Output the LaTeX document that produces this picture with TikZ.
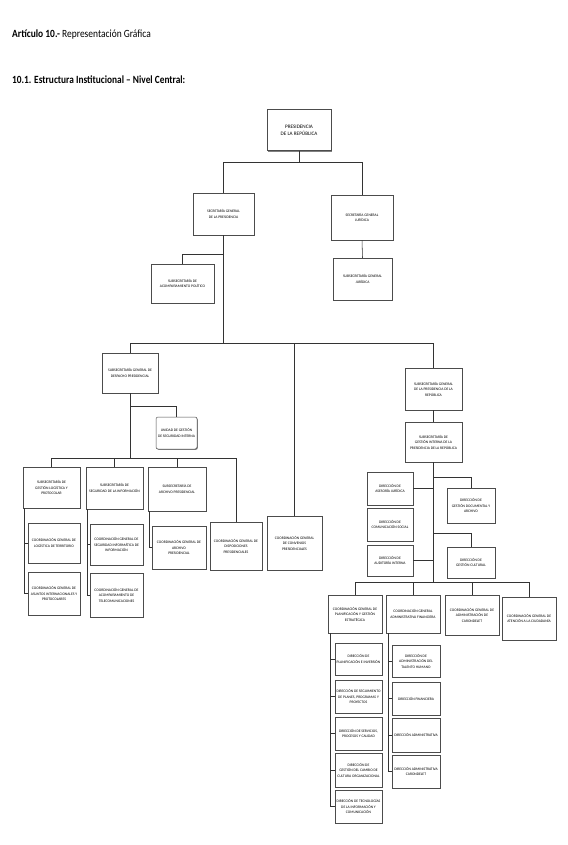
\documentclass[tikz,border=0pt]{standalone}
\usepackage{fontspec}
\setmainfont{Carlito}
\usetikzlibrary{shadows}
\tikzset{
  box/.style={draw=black!70, line width=0.5pt, fill=white, align=center, inner sep=0.6pt,
    font=\fontsize{3.7}{5.5}\selectfont,
    drop shadow={shadow xshift=0.8pt, shadow yshift=-0.8pt, fill=black!50, opacity=1}},
  topbox/.style={box, line width=1pt, font=\fontsize{5.2}{7.5}\selectfont},
  conn/.style={draw=black!80, line width=0.55pt},
  ttl/.style={anchor=base west, inner sep=0pt}
}
\newcommand\bx[7][]{\node[box,#1,minimum width={(#5)-(#3)},minimum height={(#6)-(#4)}] (#2) at ({((#3)+(#5))/2},{((#4)+(#6))/2}) {#7};}
\begin{document}
\begin{tikzpicture}[x=1pt,y=-1pt]
\useasboundingbox[fill=white] (0,0) rectangle (567,845);
% titles
\node[ttl] (t1) at (12,38) {\scalebox{0.86}[1]{\fontsize{11}{13}\selectfont\textbf{Artículo 10.-} Representación Gráfica}};
\node[ttl] (t2) at (12,84) {\scalebox{0.85}[1]{\fontsize{11}{13}\selectfont\textbf{10.1. Estructura Institucional – Nivel Central:}}};
% bus coordinates
\coordinate (b1) at (0,162);
\coordinate (b2) at (0,343);
\coordinate (b3) at (0,458);
\coordinate (b4) at (0,582);
% top level
\bx[topbox]{pres}{267}{110}{331}{151}{PRESIDENCIA\\DE LA REPÚBLICA}
\bx{sgp}{193}{193}{254}{235}{SECRETARÍA GENERAL\\DE LA PRESIDENCIA}
\bx{sgj}{331}{195}{393}{240}{SECRETARÍA GENERAL\\JURÍDICA}
\bx{sap}{151}{264}{214}{303}{SUBSECRETARÍA DE\\ACOMPAÑAMIENTO POLÍTICO}
\bx{sjur}{333}{258}{392}{300}{SUBSECRETARÍA GENERAL\\JURÍDICA}
% left branch
\bx{sdp}{102}{353}{158}{393}{SUBSECRETARÍA GENERAL DE\\DESPACHO PRESIDENCIAL}
\bx[rounded corners=2pt]{uni}{156}{417}{197}{449}{UNIDAD DE GESTIÓN\\DE SEGURIDAD INTERNA}
\bx{log}{23}{467}{80}{508}{SUBSECRETARÍA DE\\GESTIÓN LOGÍSTICA Y\\PROTOCOLAR}
\bx{seg}{86}{467}{143}{509}{SUBSECRETARÍA DE\\SEGURIDAD DE LA INFORMACIÓN}
\bx{arch}{148}{467}{206}{511}{SUBSECRETARÍA DE\\ARCHIVO PRESIDENCIAL}
\bx{c1}{28}{523}{80}{563}{COORDINACIÓN GENERAL DE\\LOGÍSTICA DE TERRITORIO}
\bx{c2}{28}{572}{80}{615}{COORDINACIÓN GENERAL DE\\ASUNTOS INTERNACIONALES Y\\PROTOCOLARES}
\bx{c3}{90}{524}{143}{565}{COORDINACIÓN GENERAL DE\\SEGURIDAD INFORMÁTICA DE\\INFORMACIÓN}
\bx{c4}{90}{573}{143}{617}{COORDINACIÓN GENERAL DE\\ACOMPAÑAMIENTO DE\\TELECOMUNICACIONES}
\bx{c5}{152}{526}{206}{569}{COORDINACIÓN GENERAL DE\\ARCHIVO\\PRESIDENCIAL}
\bx{disp}{210}{522}{262}{570}{COORDINACIÓN GENERAL DE\\DISPOSICIONES\\PRESIDENCIALES}
\bx{conv}{267}{516}{322}{570}{COORDINACIÓN GENERAL\\DE CONVENIOS\\PRESIDENCIALES}
% right branch
\bx{sgpr}{405}{368}{462}{410}{SUBSECRETARÍA GENERAL\\DE LA PRESIDENCIA DE LA\\REPÚBLICA}
\bx{sgi}{405}{422}{462}{462}{SUBSECRETARÍA DE\\GESTIÓN INTERNA DE LA\\PRESIDENCIA DE LA REPÚBLICA}
\bx{ases}{367}{472}{413}{505}{DIRECCIÓN DE\\ASESORÍA JURÍDICA}
\bx{com}{367}{508}{413}{541}{DIRECCIÓN DE\\COMUNICACIÓN SOCIAL}
\bx{aud}{367}{545}{413}{576}{DIRECCIÓN DE\\AUDITORÍA INTERNA}
\bx{doc}{447}{488}{495}{523}{DIRECCIÓN DE\\GESTIÓN DOCUMENTAL Y\\ARCHIVO}
\bx{cul}{447}{547}{495}{578}{DIRECCIÓN DE\\GESTIÓN CULTURAL}
\bx{cp}{328}{595}{382}{633}{COORDINACIÓN GENERAL DE\\PLANIFICACIÓN Y GESTIÓN\\ESTRATÉGICA}
\bx{ca}{386}{595}{440}{633}{COORDINACIÓN GENERAL\\ADMINISTRATIVA FINANCIERA}
\bx{cc}{445}{595}{499}{635}{COORDINACIÓN GENERAL DE\\ADMINISTRACIÓN DE\\CARONDELET}
\bx{cat}{502}{597}{556}{640}{COORDINACIÓN GENERAL DE\\ATENCIÓN A LA CIUDADANÍA}
\bx{d1}{335}{643}{382}{675}{DIRECCIÓN DE\\PLANIFICACIÓN E INVERSIÓN}
\bx{d2}{335}{680}{382}{713}{DIRECCIÓN DE SEGUIMIENTO\\DE PLANES, PROGRAMAS Y\\PROYECTOS}
\bx{d3}{335}{717}{382}{750}{DIRECCIÓN DE SERVICIOS,\\PROCESOS Y CALIDAD}
\bx{d4}{335}{753}{382}{787}{DIRECCIÓN DE\\GESTIÓN DEL CAMBIO DE\\CULTURA ORGANIZACIONAL}
\bx{d5}{335}{790}{382}{823}{DIRECCIÓN DE TECNOLOGÍAS\\DE LA INFORMACIÓN Y\\COMUNICACIÓN}
\bx{d6}{392}{645}{440}{677}{DIRECCIÓN DE\\ADMINISTRACIÓN DEL\\TALENTO HUMANO}
\bx{d7}{392}{682}{440}{715}{DIRECCIÓN FINANCIERA}
\bx{d8}{392}{718}{440}{752}{DIRECCIÓN ADMINISTRATIVA}
\bx{d9}{392}{755}{440}{788}{DIRECCIÓN ADMINISTRATIVA\\CARONDELET}
% connectors
\path[conn] (pres.south) -- (pres.south |- b1);
\path[conn] (sgp.north) |- (sgj.north |- b1) -- (sgj.north);
\path[conn] (sgj.south) -- (sjur.north);
\path[conn] (sgp.south) -- (sgp.south |- b2);
\path[conn] (sgp.south |- 0,254) -| (sap.north);
\path[conn] (sdp.north) -- (sdp.north |- b2) -- (sgpr.north |- b2) -- (sgpr.north);
\path[conn] (conv.north |- b2) -- (conv.north);
\path[conn] (sdp.south) -- (sdp.south |- b3);
\path[conn] (sdp.south |- 0,406) -| (uni.north);
\path[conn] (log.north) -- (log.north |- b3) -- (disp.north |- b3) -- (disp.north);
\path[conn] (seg.north |- b3) -- (seg.north);
\path[conn] (arch.north |- b3) -- (arch.north);
\path[conn] ([xshift=1.5pt]log.south west) |- (c1.west);
\path[conn] ([xshift=1.5pt]log.south west) |- (c2.west);
\path[conn] ([xshift=1.5pt]seg.south west) |- (c3.west);
\path[conn] ([xshift=1.5pt]seg.south west) |- (c4.west);
\path[conn] ([xshift=1.5pt]arch.south west) |- (c5.west);
\path[conn] (sgpr.south) -- (sgi.north);
\path[conn] (sgi.south) -- (sgi.south |- b4);
\path[conn] (ases.east) -- (ases.east -| sgi.south);
\path[conn] (aud.east) -- (aud.east -| sgi.south);
\path[conn] (sgi.south |- 0,477) -| (doc.north);
\path[conn] (sgi.south |- 0,533) -| (cul.north);
\path[conn] (cp.north) -- (cp.north |- b4) -- (cat.north |- b4) -- (cat.north);
\path[conn] (ca.north |- b4) -- (ca.north);
\path[conn] (cc.north |- b4) -- (cc.north);
\path[conn] ([xshift=3pt]cp.south west) |- (d1.west);
\path[conn] ([xshift=3pt]cp.south west) |- (d2.west);
\path[conn] ([xshift=3pt]cp.south west) |- (d3.west);
\path[conn] ([xshift=3pt]cp.south west) |- (d4.west);
\path[conn] ([xshift=3pt]cp.south west) |- (d5.west);
\path[conn] ([xshift=3pt]ca.south west) |- (d6.west);
\path[conn] ([xshift=3pt]ca.south west) |- (d7.west);
\path[conn] ([xshift=3pt]ca.south west) |- (d8.west);
\path[conn] ([xshift=3pt]ca.south west) |- (d9.west);
\end{tikzpicture}
\end{document}
